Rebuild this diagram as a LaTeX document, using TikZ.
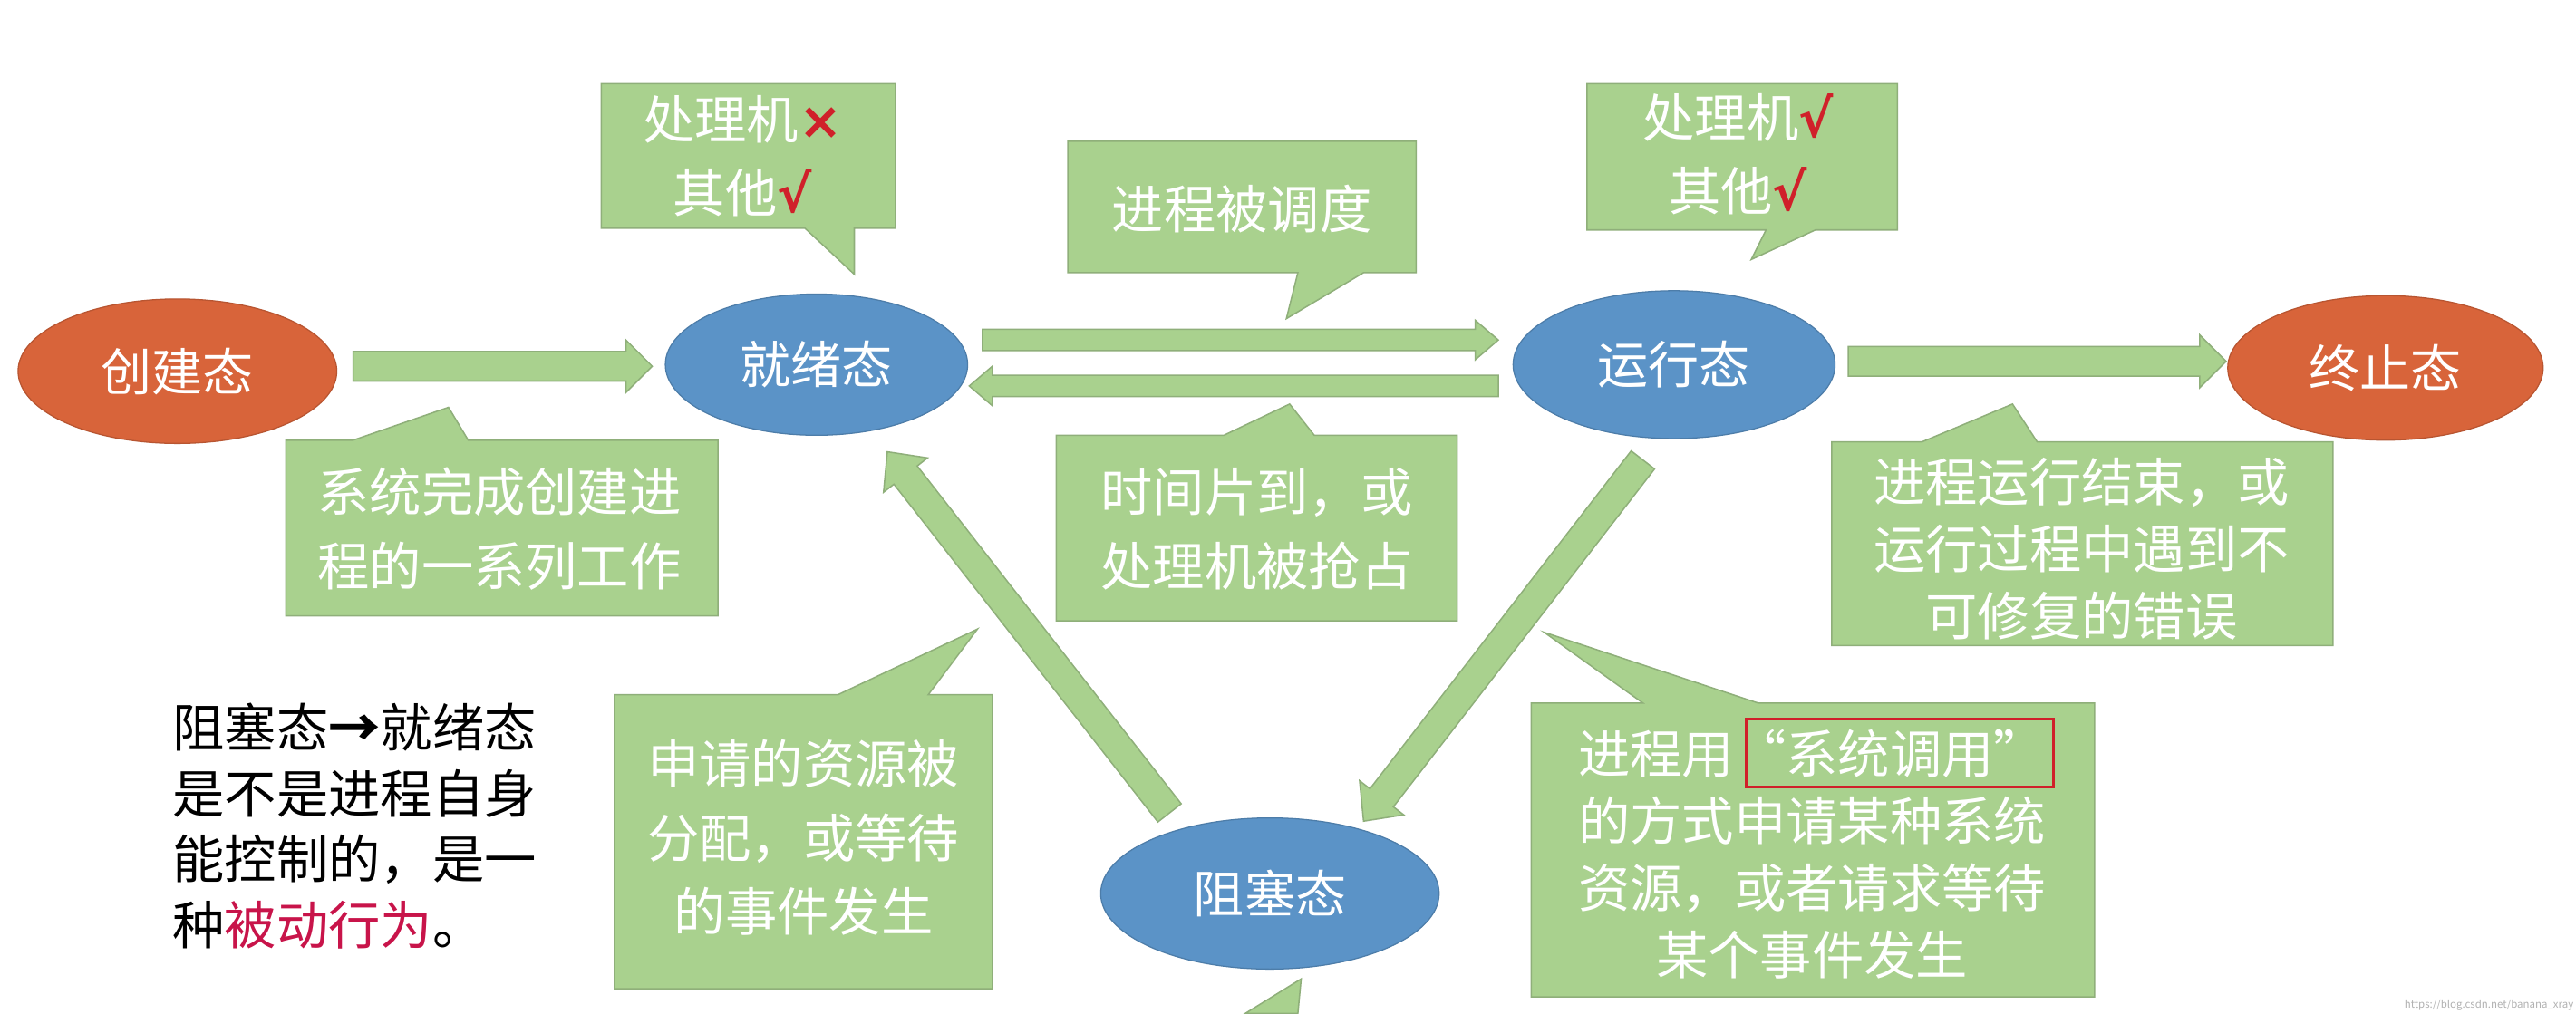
\documentclass[tikz,border=0pt]{standalone}
\usepackage{fontspec}
\setmainfont{Noto Sans CJK SC}
\newfontfamily\djv{DejaVu Sans}
\usetikzlibrary{shapes.geometric}
\definecolor{gfill}{HTML}{A9D18E}
\definecolor{gline}{HTML}{8FAF7A}
\definecolor{bfill}{HTML}{5B93C7}
\definecolor{ofill}{HTML}{D8643A}
\definecolor{redm}{HTML}{D0202A}
\definecolor{pinkt}{HTML}{C8144A}
\newcommand{\ck}{\textcolor{redm}{\djv\bfseries √}}
\newcommand{\bigarr}[7]{% mx,my,angle,length,shafthalf,headhalf,headlen
 \begin{scope}[shift={(#1,#2)},rotate=#3,x=0.05cm,y=0.05cm]
 \path[fill=gfill,draw=gline,line width=1.2pt] (-#4/2,-#5) -- (#4/2-#7,-#5) -- (#4/2-#7,-#6) -- (#4/2,0) -- (#4/2-#7,#6) -- (#4/2-#7,#5) -- (-#4/2,#5) -- cycle;
 \end{scope}}
\tikzset{
 x=0.05cm,y=-0.05cm,
 callout/.style={fill=gfill,draw=gline,line width=1.2pt},
 ctext/.style={text=white,font=\fontsize{45}{64}\selectfont,align=center,inner sep=0pt},
 ctextb/.style={ctext,font=\fontsize{45}{58}\selectfont},
 stateb/.style={ellipse,fill=bfill,draw=bfill!85!black,line width=1pt,text=white,font=\fontsize{44}{50}\selectfont},
 stateo/.style={ellipse,fill=ofill,draw=ofill!85!black,line width=1pt,text=white,font=\fontsize{44}{50}\selectfont},
}
\begin{document}
\begin{tikzpicture}
\useasboundingbox[fill=white] (0,0) rectangle (1568,617);
% states
\node[stateo,minimum width=9.7cm,minimum height=4.4cm] (create) at (108,226) {创建态};
\node[stateb,minimum width=9.2cm,minimum height=4.3cm] (ready) at (497,222) {就绪态};
\node[stateb,minimum width=9.8cm,minimum height=4.5cm] (run) at (1019,222) {运行态};
\node[stateo,minimum width=9.6cm,minimum height=4.4cm] (term) at (1452,224) {终止态};
\node[stateb,minimum width=10.3cm,minimum height=4.6cm] (block) at (773,544) {阻塞态};
% big arrows
\bigarr{306}{223}{0}{182}{9}{16}{16}
\bigarr{755}{207}{0}{314}{6.5}{12}{14}
\bigarr{751}{235}{180}{322}{6.5}{12}{14}
\bigarr{1240}{220}{0}{230}{9}{16}{16}
\bigarr{626}{385}{128}{279}{9}{17}{18}
\bigarr{915}{390}{232.3}{278}{9}{17}{18}
% callouts
\path[callout] (366,51) -- (545,51) -- (545,139) -- (520,139) -- (520,167) -- (490,139) -- (366,139) -- cycle;
\node[ctext] (c1) at (452,95) {处理机\textcolor{redm}{\djv\bfseries ×}\\其他\ck};
\path[callout] (650,86) -- (862,86) -- (862,166) -- (830,166) -- (783,194) -- (790,166) -- (650,166) -- cycle;
\node[ctext] (c2) at (756,127) {进程被调度};
\path[callout] (966,51) -- (1155,51) -- (1155,140) -- (1105,140) -- (1066,158) -- (1075,140) -- (966,140) -- cycle;
\node[ctext] (c3) at (1058,94) {处理机\ck\\其他\ck};
\path[callout] (174,268) -- (215,268) -- (273,248) -- (285,268) -- (437,268) -- (437,375) -- (174,375) -- cycle;
\node[ctext] (c4) at (304,322) {系统完成创建进\\程的一系列工作};
\path[callout] (643,265) -- (745,265) -- (785,246) -- (800,265) -- (887,265) -- (887,378) -- (643,378) -- cycle;
\node[ctext] (c5) at (765,322) {时间片到，或\\处理机被抢占};
\path[callout] (1115,269) -- (1170,269) -- (1225,246) -- (1240,269) -- (1420,269) -- (1420,393) -- (1115,393) -- cycle;
\node[ctextb] (c6) at (1267,334) {进程运行结束，或\\运行过程中遇到不\\可修复的错误};
\path[callout] (374,423) -- (510,423) -- (595,383) -- (565,423) -- (604,423) -- (604,602) -- (374,602) -- cycle;
\node[ctext] (c7) at (489,510) {申请的资源被\\分配，或等待\\的事件发生};
\path[callout] (932,428) -- (1000,428) -- (940,385) -- (1070,428) -- (1275,428) -- (1275,607) -- (932,607) -- cycle;
\node[ctextb] (c8) at (1103,520) {进程用“系统调用”\\的方式申请某种系统\\资源，或者请求等待\\某个事件发生};
\draw[redm,line width=2.5pt] (1063,438) rectangle (1250,479);
\path[callout] (758,617) -- (792,596) -- (790,617) -- cycle;
% left text
\node[anchor=north west,align=left,inner sep=0pt,font=\fontsize{45}{57}\selectfont] (note) at (105,428) {阻塞态\textbf{→}就绪态\\是不是进程自身\\能控制的，是一\\种\textcolor{pinkt}{被动行为}。};
\node[anchor=south east,text=gray!60,font=\fontsize{9}{10}\selectfont,inner sep=2pt] (wm) at (1568,617) {https://blog.csdn.net/banana\_xray};
\end{tikzpicture}
\end{document}
